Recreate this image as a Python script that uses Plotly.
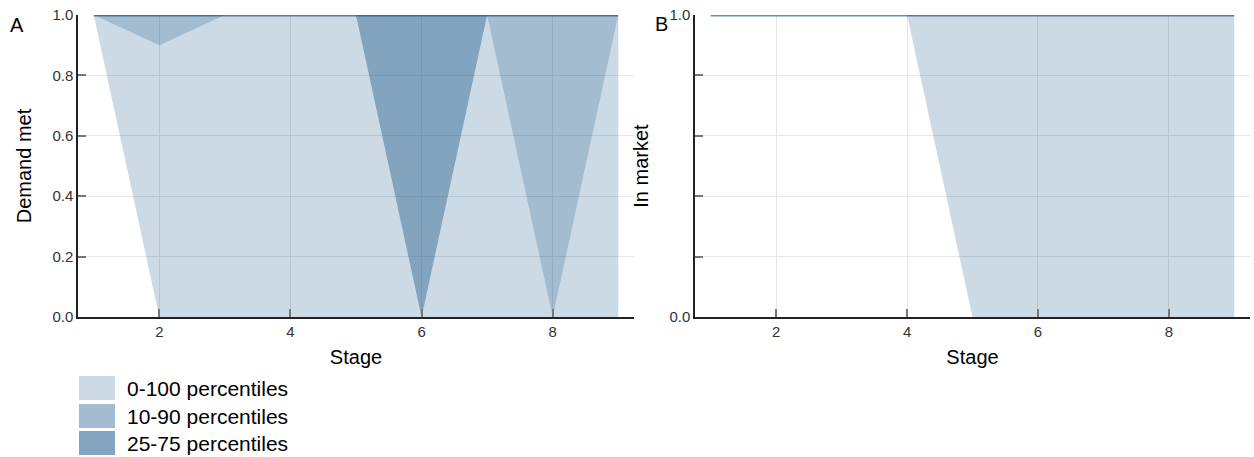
import plotly.graph_objects as go

# ---- data ----
stages = [1, 2, 3, 4, 5, 6, 7, 8, 9]

demand_p0 = [1, 0, 0, 0, 0, 0, 0, 0, 0]
demand_p100 = [1, 1, 1, 1, 1, 1, 1, 1, 1]
demand_p10 = [1, 0.9, 1, 1, 1, 0, 1, 0, 1]
demand_p90 = [1, 1, 1, 1, 1, 1, 1, 1, 1]
demand_p25 = [1, 1, 1, 1, 1, 0, 1, 1, 1]
demand_p75 = [1, 1, 1, 1, 1, 1, 1, 1, 1]
demand_p50 = [1, 1, 1, 1, 1, 1, 1, 1, 1]

market_p0 = [1, 1, 1, 1, 0, 0, 0, 0, 0]
market_p100 = [1, 1, 1, 1, 1, 1, 1, 1, 1]
market_p10 = [1, 1, 1, 1, 1, 1, 1, 1, 1]
market_p90 = [1, 1, 1, 1, 1, 1, 1, 1, 1]
market_p25 = [1, 1, 1, 1, 1, 1, 1, 1, 1]
market_p75 = [1, 1, 1, 1, 1, 1, 1, 1, 1]
market_p50 = [1, 1, 1, 1, 1, 1, 1, 1, 1]

band_labels = ["0-100 percentiles", "10-90 percentiles", "25-75 percentiles"]
y_ticks = [0, 0.2, 0.4, 0.6, 0.8, 1.0]
y_ticktext_a = ["0.0", "0.2", "0.4", "0.6", "0.8", "1.0"]
y_ticktext_b = ["0.0", "", "", "", "", "1.0"]
x_ticks = [2, 4, 6, 8]

BAND_FILL = "rgba(0,70,127,0.2)"
MEDIAN_COLOR = "rgba(0,70,127,0.6)"
FONT = "Liberation Sans, Arial, sans-serif"

fig = go.Figure()


def add_panel(xref, yref, bands, median):
    for lo, hi in bands:
        fig.add_trace(go.Scatter(
            x=stages + stages[::-1], y=hi + lo[::-1],
            fill="toself", fillcolor=BAND_FILL, mode="lines",
            line=dict(width=0, color=BAND_FILL), hoverinfo="skip",
            showlegend=False, xaxis=xref, yaxis=yref))
    fig.add_trace(go.Scatter(
        x=stages, y=median, mode="lines",
        line=dict(width=3, color=MEDIAN_COLOR),
        showlegend=False, xaxis=xref, yaxis=yref))


add_panel("x", "y", [(demand_p0, demand_p100), (demand_p10, demand_p90),
                     (demand_p25, demand_p75)], demand_p50)
add_panel("x2", "y2", [(market_p0, market_p100), (market_p10, market_p90),
                       (market_p25, market_p75)], market_p50)

W, H = 1254, 457
xa_dom = [78 / W, 634 / W]
xb_dom = [695 / W, 1250 / W]
y_dom = [1 - 317 / H, 1 - 15 / H]

axis_common = dict(
    showline=True, linecolor="#222", linewidth=1.5,
    ticks="inside", ticklen=8, tickcolor="#777", tickwidth=1.5,
    showgrid=True, gridcolor="#e6e6e6", gridwidth=1,
    zeroline=False, mirror=False, automargin=False,
    tickfont=dict(family=FONT, size=15, color="#333"),
)

fig.update_layout(
    width=W, height=H,
    margin=dict(l=0, r=0, t=0, b=0),
    paper_bgcolor="white", plot_bgcolor="white",
    font=dict(family=FONT, color="black"),
    showlegend=False,
    xaxis=dict(domain=xa_dom, range=[0.76, 9.24], tickvals=x_ticks,
               title=dict(text="Stage", font=dict(size=20), standoff=11),
               anchor="y", **axis_common),
    yaxis=dict(domain=y_dom, range=[0, 1], tickvals=y_ticks,
               ticktext=y_ticktext_a,
               title=dict(text="Demand met", font=dict(size=20)),
               anchor="x", **axis_common),
    xaxis2=dict(domain=xb_dom, range=[0.76, 9.24], tickvals=x_ticks,
                title=dict(text="Stage", font=dict(size=20), standoff=11),
                anchor="y2", **axis_common),
    yaxis2=dict(domain=y_dom, range=[0, 1], tickvals=y_ticks,
                ticktext=y_ticktext_b,
                title=dict(text="In market", font=dict(size=20)),
                anchor="x2", **axis_common),
)

# panel letters
fig.add_annotation(text="A", x=17 / W, y=1 - 25 / H, xref="paper", yref="paper",
                   xanchor="center", yanchor="middle",
                   showarrow=False, font=dict(size=20, family=FONT))
fig.add_annotation(text="B", x=661 / W, y=1 - 24 / H, xref="paper", yref="paper",
                   xanchor="center", yanchor="middle",
                   showarrow=False, font=dict(size=20, family=FONT))

# manual legend
row_centers = [388, 416, 443]
for i, (label, yc) in enumerate(zip(band_labels, row_centers)):
    alpha = 1 - (1 - 0.2) ** (i + 1)
    fig.add_shape(type="rect", xref="paper", yref="paper",
                  x0=79 / W, x1=115 / W,
                  y0=1 - (yc + 12) / H, y1=1 - (yc - 12) / H,
                  fillcolor=f"rgba(0,70,127,{alpha:.3f})", line=dict(width=0))
    fig.add_annotation(text=label, x=125 / W, y=1 - yc / H, xref="paper",
                       yref="paper", xanchor="left", yanchor="middle",
                       showarrow=False, font=dict(size=21, family=FONT))

fig.write_html(
    "out.html",
    config={"displayModeBar": False},
    post_script="document.body.style.margin='0';document.body.style.overflow='hidden';",
)
